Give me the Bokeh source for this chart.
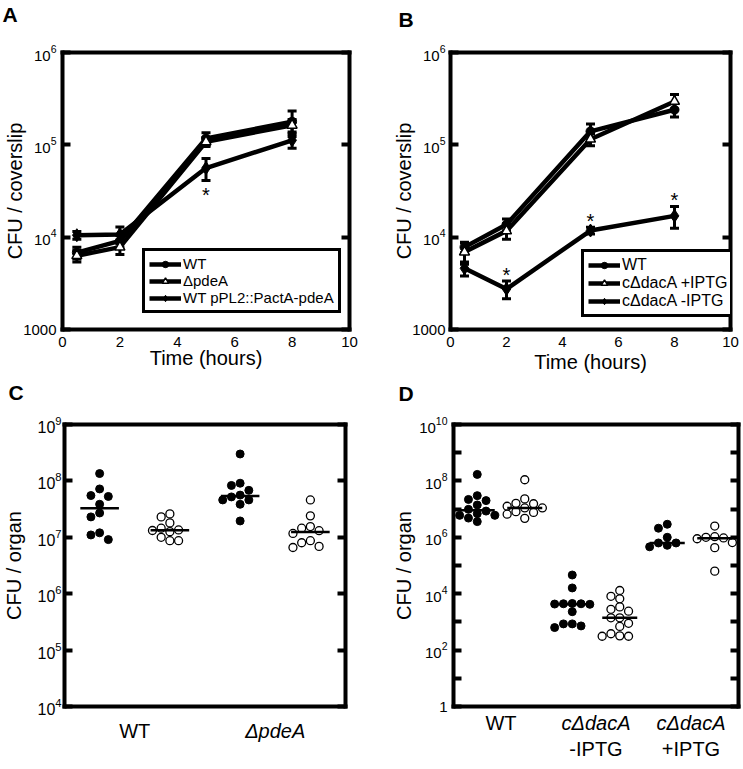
import numpy as np
from bokeh.plotting import figure
from bokeh.models import (Range1d, LogAxis, LinearAxis, FixedTicker, LogTickFormatter,
                          Whisker, TeeHead, ColumnDataSource, Legend, LegendItem, Title)
from bokeh.layouts import column, row
from bokeh.embed import file_html
from bokeh.resources import INLINE
from bokeh.core.properties import value

FONT = "Liberation Sans"

# ---------------- data ----------------
time_h = [0.5, 2, 5, 8]
time_ticks = [0, 2, 4, 6, 8, 10]
ab_y_ticks = [1e3, 1e4, 1e5, 1e6]

a_labels = ["WT", "ΔpdeA", "WT pPL2::PactA-pdeA"]
a_wt = [6.8e3, 9.1e3, 1.17e5, 1.78e5]
a_wt_sd = [1.0e3, 1.3e3, 1.8e4, 5.5e4]
a_pdea = [6.3e3, 7.8e3, 1.08e5, 1.63e5]
a_pdea_sd = [0.9e3, 1.3e3, 1.2e4, 2.5e4]
a_over = [1.05e4, 1.07e4, 5.6e4, 1.12e5]
a_over_sd = [1.0e3, 2.2e3, 1.5e4, 2.0e4]
a_star_times = [5]          # series 3, marked below

b_labels = ["WT", "cΔdacA +IPTG", "cΔdacA -IPTG"]
b_wt = [7.8e3, 1.37e4, 1.40e5, 2.40e5]
b_wt_sd = [1.0e3, 2.0e3, 2.8e4, 4.0e4]
b_plus = [6.9e3, 1.17e4, 1.15e5, 2.95e5]
b_plus_sd = [1.8e3, 2.2e3, 1.7e4, 5.5e4]
b_minus = [4.6e3, 2.75e3, 1.18e4, 1.70e4]
b_minus_sd = [0.8e3, 0.6e3, 1.0e3, 4.5e3]
b_star_times = [2, 5, 8]    # series 3, marked above

c_categories = [("WT", ""), ("ΔpdeA", "")]
c_wt_filled = [1.35e8, 7.2e7, 5.5e7, 5.3e7, 3.85e7, 2.7e7, 2.3e7, 1.2e7, 1.1e7, 9.1e6]
c_wt_open = [2.6e7, 2.3e7, 1.8e7, 1.45e7, 1.35e7, 1.32e7, 1.26e7, 1.0e7, 8.7e6, 8.7e6]
c_pdea_filled = [3.0e8, 9.1e7, 8.3e7, 6.8e7, 5.6e7, 5.2e7, 4.6e7, 4.6e7, 3.85e7, 1.95e7]
c_pdea_open = [4.6e7, 2.4e7, 1.55e7, 1.45e7, 1.31e7, 1.17e7, 8.7e6, 8.0e6, 6.9e6, 6.6e6]
c_y_ticks = [1e4, 1e5, 1e6, 1e7, 1e8, 1e9]

d_categories = [("WT", ""), ("cΔdacA", "-IPTG"), ("cΔdacA", "+IPTG")]
d_wt_filled = [1.7e8, 3.0e7, 2.2e7, 2.0e7, 1.4e7, 9.8e6, 8.5e6, 6.9e6, 6.0e6, 6.0e6, 4.8e6, 3.6e6]
d_wt_open = [1.1e8, 2.3e7, 1.6e7, 1.55e7, 1.26e7, 1.1e7, 1.1e7, 8.1e6, 7.6e6, 6.6e6, 4.7e6]
d_minus_filled = [4.6e4, 1.6e4, 4.5e3, 4.2e3, 4.4e3, 4.3e3, 4.4e3, 2.3e3, 850, 850, 720, 630]
d_minus_open = [1.3e4, 8.1e3, 6.6e3, 3.4e3, 2.8e3, 2.4e3, 1.4e3, 1.4e3, 890, 690, 380, 320, 310, 310]
d_plus_filled = [2.9e6, 2.1e6, 1.0e6, 6.3e5, 6.3e5, 5.2e5, 4.6e5]
d_plus_open = [2.5e6, 1.05e6, 1.0e6, 9.5e5, 8.9e5, 6.5e5, 4.3e5, 6.3e4]
d_y_ticks = [10 ** k for k in range(0, 11)]
d_y_labelled = [10 ** k for k in range(0, 11, 2)]


# ---------------- helpers ----------------
class Geo:
    def __init__(self, w, h, left, top, fw, fh, xr, yr):
        self.w, self.h, self.left, self.top, self.fw, self.fh = w, h, left, top, fw, fh
        self.xr, self.yr = xr, yr

    def ppu(self):
        return self.fw / (self.xr[1] - self.xr[0])

    def ppd(self):
        return self.fh / (np.log10(self.yr[1]) - np.log10(self.yr[0]))


def base_fig(g, letter, letter_dx, spacer):
    p = figure(width=g.w, height=g.h, x_range=Range1d(*g.xr), y_range=Range1d(*g.yr),
               y_axis_type="log", x_axis_location=None, y_axis_location=None,
               output_backend="svg", toolbar_location=None,
               min_border_left=g.left, min_border_top=g.top,
               min_border_right=g.w - g.left - g.fw,
               min_border_bottom=g.h - g.top - g.fh)
    p.grid.visible = False
    p.outline_line_color = None
    p.background_fill_color = "white"
    p.border_fill_color = "white"
    top = LinearAxis(ticker=FixedTicker(ticks=[], minor_ticks=[]), axis_line_width=4,
                     axis_line_color="black", axis_line_cap="square",
                     major_tick_in=0, major_tick_out=0, minor_tick_in=0, minor_tick_out=0,
                     major_label_standoff=0, axis_label=" ",
                     axis_label_text_font_size="1px", axis_label_text_line_height=1.0,
                     axis_label_standoff=spacer)
    p.add_layout(top, "above")
    p.add_layout(Title(text=letter, align="left", offset=letter_dx, standoff=0,
                       vertical_align="middle",
                       text_font=FONT, text_font_size="21px", text_font_style="bold",
                       text_line_height=1.0, text_color="black"), "above")
    return p


def y_axes(p, ticks, min_exp, size, standoff, label, label_standoff, overrides=None):
    for side in ("left", "right"):
        ax = LogAxis(ticker=FixedTicker(ticks=ticks, minor_ticks=[]),
                     formatter=LogTickFormatter(min_exponent=min_exp),
                     major_tick_in=8, major_tick_out=0, minor_tick_in=0, minor_tick_out=0,
                     major_tick_line_width=4, major_tick_line_color="black",
                     axis_line_width=4, axis_line_color="black", axis_line_cap="square",
                     major_label_text_font=FONT, major_label_text_font_size=size,
                     major_label_text_color="black",
                     major_label_standoff=standoff if side == "left" else 0)
        if side == "right":
            ax.major_label_overrides = {t: "" for t in ticks}
        else:
            if overrides:
                ax.major_label_overrides = overrides
            ax.axis_label = label
            ax.axis_label_standoff = label_standoff
            ax.axis_label_text_font = FONT
            ax.axis_label_text_font_size = "20px"
            ax.axis_label_text_font_style = "normal"
            ax.axis_label_text_color = "black"
        p.add_layout(ax, side)


def x_time_axis(p, label_standoff):
    xa = LinearAxis(ticker=FixedTicker(ticks=time_ticks, minor_ticks=[]),
                    major_tick_in=0, major_tick_out=0, minor_tick_in=0, minor_tick_out=0,
                    axis_line_width=4, axis_line_color="black", axis_line_cap="square",
                    axis_label="Time (hours)",
                    axis_label_text_font=FONT, axis_label_text_font_size="20px",
                    axis_label_text_font_style="normal", axis_label_text_color="black",
                    axis_label_text_line_height=1.0, axis_label_standoff=label_standoff,
                    major_label_text_font=FONT, major_label_text_font_size="15px",
                    major_label_text_line_height=1.0,
                    major_label_text_color="black", major_label_standoff=7)
    p.add_layout(xa, "below")


def line_panel(g, series, labels, legend_loc, legend_font, stars, star_side,
               letter, letter_dx, spacer, tick_standoff, ylab_standoff, xlab_standoff):
    p = base_fig(g, letter, letter_dx, spacer)
    y_axes(p, ab_y_ticks, 4, "15px", tick_standoff, "CFU / coverslip", ylab_standoff)
    x_time_axis(p, xlab_standoff)
    markers = [dict(marker="circle", size=9, fill_color="black", line_color="black"),
               dict(marker="triangle", size=10, fill_color="white", line_color="black",
                    line_width=1.5),
               dict(marker="diamond", size=13, fill_color="black", line_color="black")]
    srcs = []
    for y, sd in series:
        y = np.array(y, dtype=float)
        sd = np.array(sd, dtype=float)
        srcs.append(ColumnDataSource(dict(x=time_h, y=y, lo=y - sd, hi=y + sd)))
    lines = [p.line("x", "y", source=s, line_width=4.5, line_color="black") for s in srcs]
    for s in srcs:
        p.add_layout(Whisker(source=s, base="x", upper="hi", lower="lo", dimension="height",
                             line_width=3, line_color="black",
                             upper_head=TeeHead(size=9, line_width=3, line_color="black"),
                             lower_head=TeeHead(size=9, line_width=3, line_color="black")))
    dots = [p.scatter("x", "y", source=s, **m) for s, m in zip(srcs, markers)]
    items = [LegendItem(label=lab, renderers=[ln, dt]) for lab, ln, dt in zip(labels, lines, dots)]
    leg = Legend(items=items, location=legend_loc, border_line_color="black",
                 border_line_width=3, border_line_alpha=1, padding=4, spacing=0, margin=0,
                 glyph_width=32, glyph_height=16, label_height=16, label_standoff=2,
                 label_text_font=FONT, label_text_font_size=legend_font,
                 label_text_color="black", background_fill_color="white",
                 background_fill_alpha=1)
    p.add_layout(leg)
    s3 = srcs[2].data
    sx, sy = [], []
    for t in stars:
        i = time_h.index(t)
        sx.append(t)
        sy.append(s3["hi"][i] if star_side == "above" else s3["lo"][i])
    off = -6 if star_side == "above" else 14
    p.text(x=sx, y=sy, text=["*"] * len(sx), text_font=value(FONT), text_font_size="20px",
           text_align="center", text_baseline="middle", y_offset=off, text_color="black")
    return p


def swarm(vals, center, g, step_px=8.8, dmin=8.0):
    vals = np.asarray(vals, dtype=float)
    ys = np.log10(vals) * g.ppd()
    placed = []
    xs = np.zeros(len(vals))
    for i in np.argsort(-vals, kind="stable"):
        for k in [0, -1, 1, -2, 2, -3, 3, -4, 4]:
            xp = k * step_px
            if all((xp - a) ** 2 + (ys[i] - b) ** 2 >= dmin ** 2 for a, b in placed):
                break
        placed.append((xp, ys[i]))
        xs[i] = center + xp / g.ppu()
    return xs


def category_axes(p, categories, s1, pitch, fh=25):
    centers = [2 * k + 1 for k in range(len(categories))]

    def mk(overrides, style, standoff, with_line):
        return LinearAxis(ticker=FixedTicker(ticks=centers, minor_ticks=[]),
                          major_tick_in=0, major_tick_out=0, minor_tick_in=0,
                          minor_tick_out=0,
                          axis_line_width=4, axis_line_cap="square",
                          axis_line_color="black" if with_line else None,
                          major_label_overrides=overrides,
                          major_label_text_font=FONT, major_label_text_font_size="20px",
                          major_label_text_font_style=style,
                          major_label_text_line_height=1.0,
                          major_label_text_color="black",
                          major_label_standoff=int(standoff))

    upright = {c: ("" if "Δ" in l1 else l1) for c, (l1, l2) in zip(centers, categories)}
    italic = {c: (l1 if "Δ" in l1 else "") for c, (l1, l2) in zip(centers, categories)}
    second = {c: l2 for c, (l1, l2) in zip(centers, categories)}
    p.add_layout(mk(upright, "normal", s1, True), "below")
    p.add_layout(mk(italic, "italic", -fh, False), "below")
    if any(second.values()):
        p.add_layout(mk(second, "normal", pitch - fh, False), "below")


def dot_panel(g, groups, yticks, min_exp, tick_size, tick_standoff, ylab_standoff, overrides,
              med_half_px, letter, letter_dx, spacer):
    p = base_fig(g, letter, letter_dx, spacer)
    y_axes(p, yticks, min_exp, tick_size, tick_standoff, "CFU / organ", ylab_standoff,
           overrides)
    for j, (vals, filled) in enumerate(groups):
        c = j + 0.5
        xs = swarm(vals, c, g)
        p.scatter(xs, vals, marker="circle", size=8,
                  fill_color="black" if filled else "white", line_color="black",
                  line_width=1.0 if filled else 1.3)
        med = float(np.median(vals))
        hw = med_half_px / g.ppu()
        p.segment(x0=[c - hw], x1=[c + hw], y0=[med], y1=[med], line_width=2.5,
                  line_color="black")
    return p


# ---------------- panel A ----------------
gA = Geo(370, 378, 62, 52, 287, 278, (0, 10), (1e3, 1e6))
pA = line_panel(gA, [(a_wt, a_wt_sd), (a_pdea, a_pdea_sd), (a_over, a_over_sd)], a_labels,
                (80, 16), "15px", a_star_times, "below", "A", -60, 22, 6, -6, -3)

# ---------------- panel B ----------------
gB = Geo(373, 378, 80, 47, 280, 282, (0, 10), (1e3, 1e6))
pB = line_panel(gB, [(b_wt, b_wt_sd), (b_plus, b_plus_sd), (b_minus, b_minus_sd)], b_labels,
                (131, 12), "16px", b_star_times, "above", "B", -52, 17, 5, -6, 1)

# ---------------- panel C ----------------
gC = Geo(370, 391, 61, 46, 284, 282, (0, 4), (1e4, 1e9))
pC = dot_panel(gC, [(c_wt_filled, True), (c_wt_open, False),
                    (c_pdea_filled, True), (c_pdea_open, False)],
               c_y_ticks, 4, "16px", 3, 9, None, 19.5, "C", -56, 16)
category_axes(pC, c_categories, 13, 28)

# ---------------- panel D ----------------
gD = Geo(373, 391, 83, 45, 285, 288, (0, 6), (1, 1e10))
d_over = {t: "" for t in d_y_ticks if t not in d_y_labelled}
pD = dot_panel(gD, [(d_wt_filled, True), (d_wt_open, False),
                    (d_minus_filled, True), (d_minus_open, False),
                    (d_plus_filled, True), (d_plus_open, False)],
               d_y_ticks, 1, "15px", 6, 1, d_over, 17.5, "D", -55, 15)
category_axes(pD, d_categories, 5, 26)

layout = column(row(pA, pB), row(pC, pD))
with open("out.html", "w") as f:
    f.write(file_html(layout, INLINE))
